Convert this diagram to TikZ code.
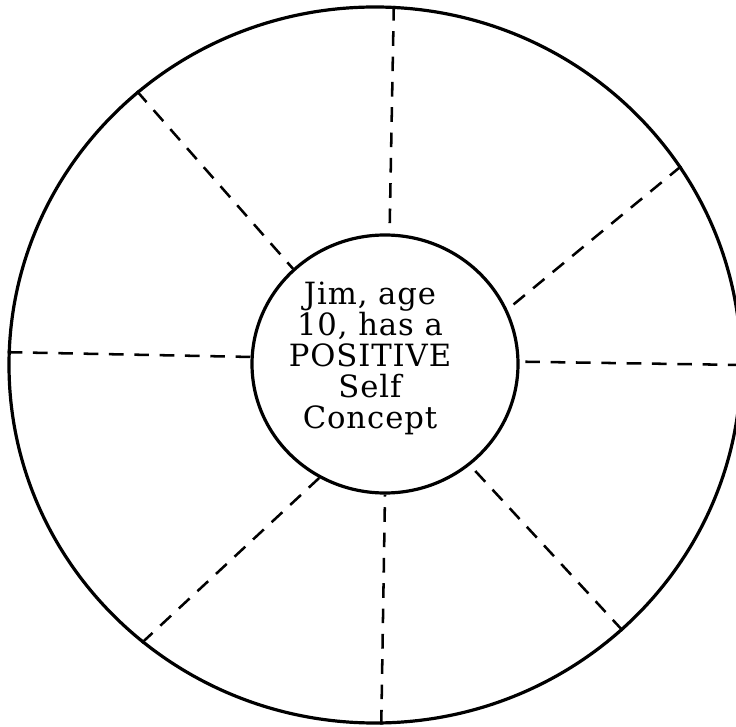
\documentclass[tikz,border=0pt]{standalone}
\usepackage{fontspec}
\setmainfont{DejaVu Serif}
\usepackage{tikz}
\usetikzlibrary{shapes.geometric, positioning}

\begin{document}
\begin{tikzpicture}[
  x=0.75pt, y=-0.75pt,
  rimcircle/.style={ellipse, draw, line width=2.4pt, minimum width=549pt, minimum height=537pt, inner sep=0pt},
  hubcircle/.style={ellipse, draw, line width=2.4pt, minimum width=199.5pt, minimum height=193.5pt, inner sep=0pt},
  spoke/.style={line width=1.9pt, dash pattern=on 11pt off 8pt},
  hubtext/.style={align=center, inner sep=0pt, font=\addfontfeatures{LetterSpace=3}\fontsize{23}{23.25}\selectfont}
]
\useasboundingbox (0,0) rectangle (736,727);
\clip (0,0) rectangle (736,727);

% Outer and inner circles
\node[rimcircle] (rim) at (375,365) {};
\node[hubcircle] (self) at (385,364) {};
\node[hubtext] (jim) at (370,358) {Jim, age\\10, has a\\POSITIVE\\Self\\Concept};

% Spokes
\draw[spoke] (rim.87.3) -- (self.88.7);
\draw[spoke] (rim.131.6) -- (self.134.7);
\draw[spoke] (rim.178) -- (self.177);
\draw[spoke] (rim.230.3) -- (self.240);
\draw[spoke] (rim.271.3) -- (self.270);
\draw[spoke] (rim.313) -- (self.310.7);
\draw[spoke] (rim.0) -- (self.1);
\draw[spoke] (rim.33.9) -- (self.24);

\end{tikzpicture}
\end{document}
